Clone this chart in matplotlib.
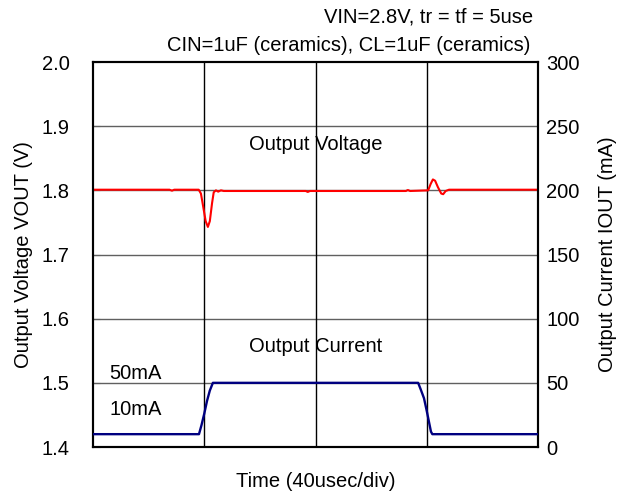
import matplotlib
matplotlib.use("Agg")
import matplotlib.pyplot as plt

plt.rcParams["font.family"] = ["Liberation Sans", "DejaVu Sans"]

# output voltage trace (time in usec, volts)
v_time = [0, 27.5, 28.4, 29.2, 38.0, 38.8, 39.6, 40.5, 41.3, 42.0, 42.8, 43.4,
          44.2, 45.0, 46.0, 47.0, 76.5, 77.2, 78.0, 112.5, 113.2, 114.0, 120.5,
          121.4, 122.2, 123.0, 124.0, 125.2, 125.9, 126.8, 128.0, 160]
v_out = [1.801, 1.801, 1.7995, 1.801, 1.801, 1.795, 1.775, 1.752, 1.743, 1.752,
         1.780, 1.797, 1.800, 1.798, 1.800, 1.799, 1.799, 1.7975, 1.799, 1.799,
         1.8005, 1.799, 1.800, 1.810, 1.817, 1.815, 1.805, 1.795, 1.794, 1.799,
         1.801, 1.801]

# output current trace (time in usec, mA)
i_time = [0, 38.1, 39.0, 40.0, 41.0, 42.0, 43.1, 116.9, 117.8, 119.0, 120.0,
          121.5, 122.0, 160]
i_out = [10, 10, 17, 26, 36, 44, 50, 50, 45, 38, 28, 12, 10, 10]

v_ticks = [1.4, 1.5, 1.6, 1.7, 1.8, 1.9, 2.0]
i_ticks = [0, 50, 100, 150, 200, 250, 300]
divs = [40, 80, 120]

FS = 14.5

fig = plt.figure(figsize=(6.18, 4.93), dpi=100)
ax = fig.add_axes([0.1505, 0.0933, 0.7201, 0.7809])
ax2 = ax.twinx()

for v in v_ticks[1:-1]:
    ax.axhline(v, color="#606060", lw=1.0, zorder=1)
for t in divs:
    ax.axvline(t, color="black", lw=1.0, zorder=1)

ax.plot(v_time, v_out, color="#ff0000", lw=1.5, zorder=3)
ax2.plot(i_time, i_out, color="#000080", lw=1.7, zorder=3)

ax.set_xlim(0, 160)
ax.set_ylim(1.4, 2.0)
ax2.set_ylim(0, 300)
ax.set_xticks([])
ax.set_yticks(v_ticks)
ax.set_yticklabels([f"{v:.1f}" for v in v_ticks])
ax2.set_yticks(i_ticks)
ax.tick_params(axis="y", direction="in", length=5, color="#606060",
               labelsize=FS, pad=17)
ax2.tick_params(axis="y", length=0, labelsize=FS, pad=6)
for sp in ax.spines.values():
    sp.set_linewidth(1.5)
for sp in ax2.spines.values():
    sp.set_linewidth(1.5)

ax.set_ylabel("Output Voltage VOUT (V)", fontsize=FS, labelpad=6)
ax2.set_ylabel("Output Current IOUT (mA)", fontsize=FS, labelpad=13)
ax.set_xlabel("Time (40usec/div)", fontsize=FS, labelpad=18)

ax.text(80, 1.872, "Output Voltage", fontsize=FS, ha="center", va="center")
ax.text(80, 1.557, "Output Current", fontsize=FS, ha="center", va="center")
ax.text(6, 1.515, "50mA", fontsize=FS, ha="left", va="center")
ax.text(6, 1.459, "10mA", fontsize=FS, ha="left", va="center")

fig.text(0.862, 0.965, "VIN=2.8V, tr = tf = 5use", fontsize=FS,
         ha="right", va="center")
fig.text(0.858, 0.908, "CIN=1uF (ceramics), CL=1uF (ceramics)", fontsize=FS,
         ha="right", va="center")

fig.savefig("out.png", dpi=100)
